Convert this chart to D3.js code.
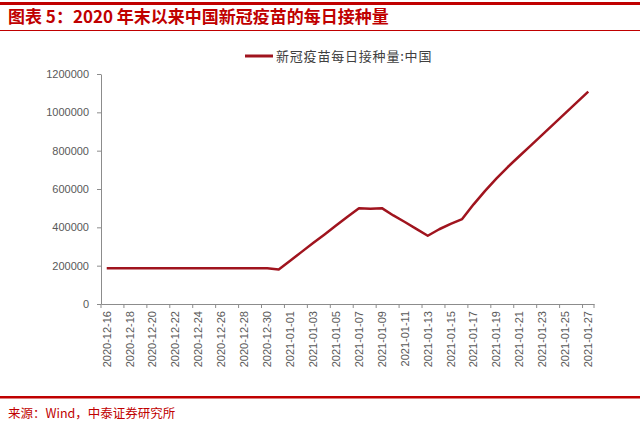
<!DOCTYPE html>
<html>
<head>
<meta charset="utf-8">
<script src="https://cdn.jsdelivr.net/npm/d3@7/dist/d3.min.js"></script>
<style>
  body { margin: 0; background: #fff; }
  svg { display: block; font-family: "Liberation Sans", Arial, sans-serif; }
  .cn { font-family: "Noto Sans CJK SC", sans-serif; }
  .axis path, .axis line { stroke: #8c8c8c; }
  .axis text { fill: #595959; font-size: 11px; }
</style>
</head>
<body>
<div id="chart"></div>
<script>
// 日期
var dates = [
  "2020-12-16","2020-12-17","2020-12-18","2020-12-19","2020-12-20","2020-12-21","2020-12-22",
  "2020-12-23","2020-12-24","2020-12-25","2020-12-26","2020-12-27","2020-12-28","2020-12-29",
  "2020-12-30","2020-12-31","2021-01-01","2021-01-02","2021-01-03","2021-01-04","2021-01-05",
  "2021-01-06","2021-01-07","2021-01-08","2021-01-09","2021-01-10","2021-01-11","2021-01-12",
  "2021-01-13","2021-01-14","2021-01-15","2021-01-16","2021-01-17","2021-01-18","2021-01-19",
  "2021-01-20","2021-01-21","2021-01-22","2021-01-23","2021-01-24","2021-01-25","2021-01-26",
  "2021-01-27"
];
// 新冠疫苗每日接种量:中国
var daily = [
  186000,186000,186000,186000,186000,186000,186000,
  186000,186000,186000,186000,186000,186000,186000,
  186000,180000,226000,272000,318000,363000,409000,
  455000,500000,497000,500000,462000,428000,392000,
  356000,390000,418000,443000,520000,590000,655000,
  716000,772000,828000,884000,940000,996000,1052000,
  1108000
];
var yTicks = [0, 200000, 400000, 600000, 800000, 1000000, 1200000];

var W = 640, H = 425;
var red = "#c00000";
var svg = d3.select("#chart").append("svg").attr("width", W).attr("height", H);

// 标题与分隔线
svg.append("rect").attr("x", 0).attr("y", 2).attr("width", W).attr("height", 3).attr("fill", red);
svg.append("text").attr("class", "cn").attr("x", 8).attr("y", 23)
  .attr("font-size", 17).attr("font-weight", "bold").attr("fill", red)
  .text("图表 5：2020 年末以来中国新冠疫苗的每日接种量");
svg.append("rect").attr("x", 0).attr("y", 30).attr("width", W).attr("height", 1).attr("fill", red);

// 底部
svg.append("rect").attr("x", 0).attr("y", 396).attr("width", W).attr("height", 2.5).attr("fill", red);
svg.append("text").attr("class", "cn").attr("x", 8).attr("y", 418)
  .attr("font-size", 12.5).attr("fill", red)
  .text("来源：Wind，中泰证券研究所");

// 比例尺
var x = d3.scaleBand().domain(dates).range([101, 594]).padding(0);
var bw = x.bandwidth();
var y = d3.scaleLinear().domain([0, 1200000]).range([304, 74]);

// 纵坐标
var yAxis = d3.axisLeft(y).tickValues(yTicks).tickSize(4).tickSizeOuter(0).tickFormat(d3.format("d"));
var gy = svg.append("g").attr("class", "axis").attr("transform", "translate(101,0)").call(yAxis);
gy.selectAll("text").attr("font-size", 12).attr("dx", -5);

// 横坐标
var xAxis = d3.axisBottom(x)
  .tickValues(dates.filter(function(d, i) { return i % 2 === 0; }))
  .tickSize(4).tickSizeOuter(0);
var gx = svg.append("g").attr("class", "axis").attr("transform", "translate(0,304)").call(xAxis);
gx.selectAll(".tick line").attr("x1", -bw / 2).attr("x2", -bw / 2);
gx.append("line").attr("x1", 594).attr("x2", 594).attr("y1", 0).attr("y2", 4).attr("stroke", "#8c8c8c");
gx.selectAll(".tick text")
  .attr("text-anchor", "end")
  .attr("transform", "rotate(-90)")
  .attr("x", -7).attr("y", 0).attr("dy", "0.35em");

// 折线
var line = d3.line()
  .x(function(d, i) { return x(dates[i]) + bw / 2; })
  .y(function(d) { return y(d); });
svg.append("path").datum(daily)
  .attr("d", line)
  .attr("fill", "none")
  .attr("stroke", "#a0141e")
  .attr("stroke-width", 2.5)
  .attr("stroke-linejoin", "round");

// 图例
svg.append("line").attr("x1", 245).attr("x2", 273).attr("y1", 56).attr("y2", 56)
  .attr("stroke", "#a0141e").attr("stroke-width", 3);
svg.append("text").attr("class", "cn").attr("x", 276).attr("y", 60.5)
  .attr("font-size", 13).attr("letter-spacing", 0.8).attr("fill", "#404040")
  .text("新冠疫苗每日接种量:中国");
</script>
</body>
</html>
